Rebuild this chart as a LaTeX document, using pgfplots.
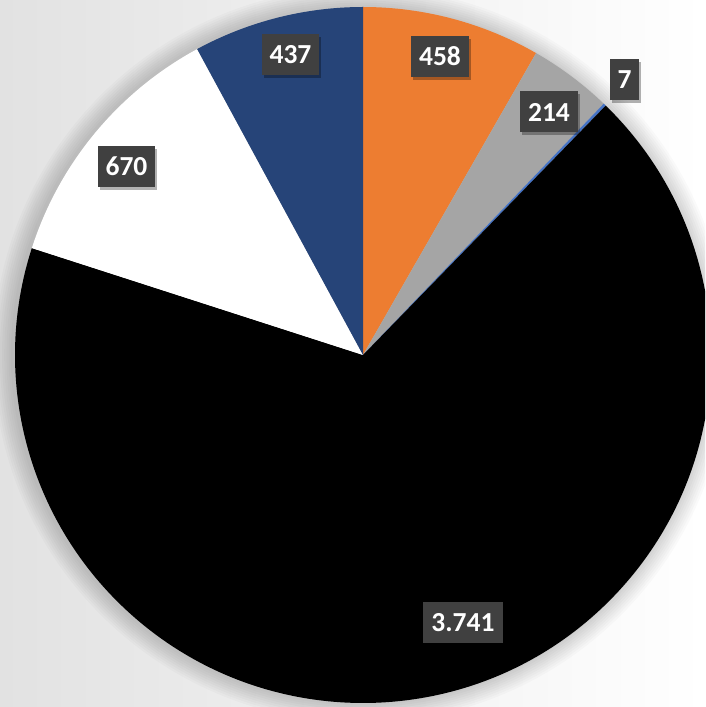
\documentclass[border=0pt]{standalone}
\usepackage{pgfplots}
\pgfplotsset{compat=1.18}
\usepackage{pgfplotstable}
\usepackage{fontspec}
\setmainfont{Carlito}[BoldFont={Carlito Bold}]
\usetikzlibrary{shadows}

\definecolor{sliceOrange}{HTML}{ED7D31}
\definecolor{sliceGray}{HTML}{A5A5A5}
\definecolor{sliceBlue}{HTML}{4472C4}
\definecolor{sliceNavy}{HTML}{264478}
\definecolor{labgray}{HTML}{404040}
\definecolor{bgleft}{HTML}{E2E2E2}

\tikzset{labbox/.style={fill=labgray, text=white, font=\fontsize{27.5}{27.5}\selectfont\bfseries,
    minimum height=41pt, inner xsep=8pt, inner ysep=0pt,
    drop shadow={shadow xshift=2pt, shadow yshift=-3pt, opacity=0.3, fill=black}}}

% slices clockwise from 12 o'clock; label centres in axis units (pt)
\pgfplotstableread{
lab   value lx    ly    col
458   458   440   650.5 sliceOrange
214   214   549   595   sliceGray
7     7     624.5 627   sliceBlue
3.741 3741  463   84.5  black
670   670   126.5 540.5 white
437   437   290.5 652.5 sliceNavy
}\piedata

\pgfplotstablegetrowsof{\piedata}
\pgfmathtruncatemacro\nrows{\pgfplotsretval-1}
\gdef\total{0}
\foreach \i in {0,...,\nrows}{%
  \pgfplotstablegetelem{\i}{value}\of\piedata
  \pgfmathsetmacro\t{\total+\pgfplotsretval}\xdef\total{\t}}
\gdef\cum{0}
\foreach \i in {0,...,\nrows}{%
  \pgfplotstablegetelem{\i}{value}\of\piedata \let\v\pgfplotsretval
  \pgfmathsetmacro\a{90-\cum/\total*360}
  \pgfmathsetmacro\b{90-(\cum+\v)/\total*360}
  \expandafter\xdef\csname sa\i\endcsname{\a}
  \expandafter\xdef\csname sb\i\endcsname{\b}
  \pgfmathsetmacro\c{\cum+\v}\xdef\cum{\c}
  \pgfplotstablegetelem{\i}{col}\of\piedata
  \expandafter\xdef\csname sc\i\endcsname{\pgfplotsretval}
  \pgfplotstablegetelem{\i}{lab}\of\piedata
  \expandafter\xdef\csname sl\i\endcsname{\pgfplotsretval}
  \pgfplotstablegetelem{\i}{lx}\of\piedata
  \expandafter\xdef\csname sx\i\endcsname{\pgfplotsretval}
  \pgfplotstablegetelem{\i}{ly}\of\piedata
  \expandafter\xdef\csname sy\i\endcsname{\pgfplotsretval}}

\def\cx{363}
\def\cy{352}
\def\rad{348pt}

\begin{document}
\begin{tikzpicture}
\begin{axis}[
    hide axis,
    scale only axis,
    width=705pt, height=707pt,
    xmin=0, xmax=705,
    ymin=0, ymax=707,
    clip=true,
    ]
    \addplot[draw=none] coordinates {(\cx,\cy)};
    \fill[left color=bgleft, right color=white] (axis cs:0,0) rectangle (axis cs:705,707);
    % soft glow round the pie
    \pgfplotsinvokeforeach{1,...,9}{
        \fill[black, opacity=0.02] (axis cs:\cx-2,\cy) circle[radius=348pt+#1*2.2pt];
    }
    \pgfplotsinvokeforeach{0,...,5}{
        \edef\temp{\noexpand\fill[fill=\csname sc#1\endcsname]
            (axis cs:\cx,\cy) -- ++(\csname sa#1\endcsname:\rad)
            arc[start angle=\csname sa#1\endcsname, end angle=\csname sb#1\endcsname, radius=\rad] -- cycle;}
        \temp
    }
    \pgfplotsinvokeforeach{0,...,5}{
        \edef\temp{\noexpand\node[labbox] at (axis cs:\csname sx#1\endcsname,\csname sy#1\endcsname)
            {\csname sl#1\endcsname};}
        \temp
    }
\end{axis}
\end{tikzpicture}
\end{document}
